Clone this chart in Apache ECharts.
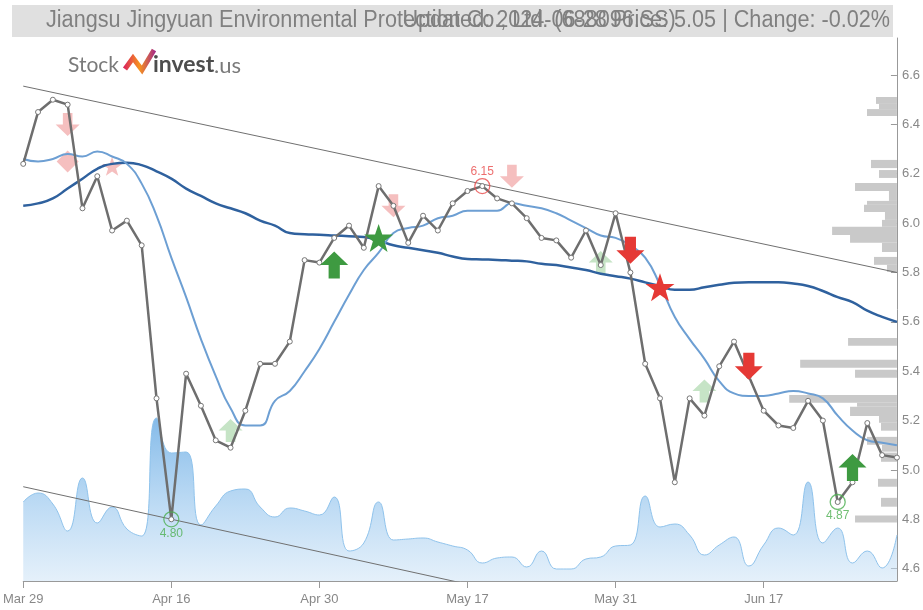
<!DOCTYPE html>
<html><head><meta charset="utf-8">
<script src="https://cdn.jsdelivr.net/npm/echarts@6/dist/echarts.min.js"></script>
<style>html,body{margin:0;padding:0;background:#fff}#c{width:923px;height:610px}</style>
</head><body><div id="c"></div>
<script>
const dates = ['Mar 29','Apr 1','Apr 2','Apr 3','Apr 8','Apr 9','Apr 10','Apr 11','Apr 12','Apr 15',
 'Apr 16','Apr 17','Apr 18','Apr 19','Apr 22','Apr 23','Apr 24','Apr 25','Apr 26','Apr 29',
 'Apr 30','May 6','May 7','May 8','May 9','May 10','May 13','May 14','May 15','May 16',
 'May 17','May 20','May 21','May 22','May 23','May 24','May 27','May 28','May 29','May 30',
 'May 31','Jun 3','Jun 4','Jun 5','Jun 6','Jun 7','Jun 11','Jun 12','Jun 13','Jun 14',
 'Jun 17','Jun 18','Jun 19','Jun 20','Jun 21','Jun 24','Jun 25','Jun 26','Jun 27','Jun 28'];
const price = [6.24,6.45,6.50,6.48,6.06,6.19,5.97,6.01,5.91,5.29,
 4.80,5.39,5.26,5.12,5.09,5.24,5.43,5.43,5.52,5.85,
 5.84,5.94,5.99,5.90,6.15,6.07,5.92,6.03,5.97,6.08,
 6.13,6.15,6.10,6.08,6.02,5.94,5.93,5.86,5.97,5.83,
 6.04,5.80,5.43,5.29,4.95,5.29,5.22,5.42,5.52,5.38,
 5.24,5.18,5.17,5.28,5.20,4.87,4.95,5.19,5.06,5.05];
const maShort = [6.26,6.25,6.26,6.28,6.27,6.29,6.27,6.24,6.16,6.03,
 5.86,5.70,5.53,5.38,5.25,5.18,5.18,5.28,5.32,5.40,
 5.49,5.60,5.71,5.81,5.88,5.96,5.98,5.99,6.02,6.03,
 6.05,6.05,6.05,6.08,6.07,6.06,6.04,6.01,5.98,5.95,
 5.94,5.91,5.86,5.75,5.62,5.53,5.45,5.36,5.31,5.30,
 5.30,5.31,5.32,5.31,5.29,5.22,5.16,5.12,5.11,5.10];
const maLong = [6.07,6.08,6.10,6.14,6.18,6.22,6.24,6.245,6.235,6.21,
 6.18,6.14,6.11,6.08,6.06,6.04,6.01,5.99,5.96,5.955,
 5.953,5.95,5.947,5.944,5.93,5.91,5.90,5.89,5.88,5.865,
 5.855,5.853,5.851,5.848,5.845,5.835,5.83,5.82,5.81,5.795,
 5.785,5.775,5.76,5.745,5.73,5.73,5.74,5.75,5.758,5.76,
 5.76,5.76,5.755,5.745,5.725,5.70,5.68,5.645,5.62,5.60];
const volume = [1580,1760,1540,1000,2060,1160,1480,1040,900,3260,
 2560,2580,1120,1500,1800,1840,1480,1280,1460,1400,
 1320,1680,600,760,1580,820,840,860,780,700,
 620,360,460,480,280,600,240,240,440,480,
 700,720,1700,1080,1140,920,520,720,880,300,
 720,1060,920,1980,760,1060,360,600,260,920];
// [volume, priceLow, priceHigh]
const profile = [[210,6.483,6.511],[180,6.462,6.483],[300,6.434,6.462],
 [260,6.223,6.256],[180,6.183,6.215],[420,6.130,6.163],[80,6.090,6.130],[300,6.074,6.090],
 [330,6.045,6.074],[120,6.013,6.045],[150,5.985,6.013],[650,5.952,5.985],[470,5.920,5.952],
 [150,5.883,5.920],[230,5.831,5.863],[100,5.802,5.831],
 [490,5.503,5.535],[970,5.414,5.446],[420,5.373,5.406],[1080,5.272,5.304],[400,5.256,5.272],
 [470,5.219,5.256],[180,5.191,5.219],[160,5.159,5.191],[300,5.102,5.134],[150,5.074,5.102],
 [160,5.033,5.070],[190,4.932,4.964],[160,4.851,4.887],[420,4.787,4.815]];
const upperTrend = [[0,6.555],[59,5.80]];
const lowerTrend = [[0,4.932],[59,4.155]];
const yTicks = [4.6,4.8,5.0,5.2,5.4,5.6,5.8,6.0,6.2,6.4,6.6];
const buyArrows = [[21,5.83],[56,5.01]];
const buyStars = [[24,5.94]];
const sellArrows = [[41,5.89],[49,5.42]];
const sellStars = [[43,5.74]];
const weakSellArrows = [[3,6.40],[25,6.07],[33,6.19]];
const weakSellDiamonds = [[3,6.25]];
const weakSellStars = [[6,6.23]];
const weakBuyArrows = [[14,5.16],[39,5.84],[46,5.32]];
const highs = [[31,6.15]];
const lows = [[10,4.80],[55,4.87]];

const downArrow = 'path://M3,0 L7,0 L7,5 L10,5 L5,10 L0,5 L3,5 Z';
const upArrow = 'path://M5,0 L10,5 L7,5 L7,10 L3,10 L3,5 L0,5 Z';
const star = 'path://M50,0 L61.8,35.3 L97.6,35.3 L68.8,57.1 L79.4,92.7 L50,71.3 L20.6,92.7 L31.2,57.1 L2.4,35.3 L38.2,35.3 Z';
const RED = '#e53935', GREEN = '#3e9a41', PINK = '#f5bfbf', LGREEN = '#c6e4c6';

function marker(data, symbol, size, color, z) {
  return {type:'scatter', data, symbol, symbolSize:size, symbolKeepAspect:false,
    itemStyle:{color, opacity:1}, z, silent:true};
}

const chart = echarts.init(document.getElementById('c'));
const titleFont = '23px "Liberation Sans", Arial, sans-serif';
chart.setOption({
  animation:false,
  backgroundColor:'#fff',
  grid:{left:22, right:25, top:38, bottom:29},
  xAxis:[{
    type:'category', data:dates, boundaryGap:false,
    axisLine:{lineStyle:{color:'#999'}},
    axisTick:{interval:9, length:7, lineStyle:{color:'#999'}},
    axisLabel:{interval:9, color:'#888', fontSize:13, margin:12, fontFamily:'"Liberation Sans", Arial, sans-serif'},
    splitLine:{show:false}
  },{
    type:'value', inverse:true, min:0, max:8760, show:false, position:'top'
  }],
  yAxis:[{
    type:'value', position:'right', min:4.55, max:6.75, scale:true,
    axisLine:{show:true, lineStyle:{color:'#999'}},
    axisTick:{show:true, inside:true, length:6, customValues:yTicks, lineStyle:{color:'#999'}},
    axisLabel:{customValues:yTicks, color:'#888', fontSize:13, margin:5,
      fontFamily:'"Liberation Sans", Arial, sans-serif', formatter:v=>Number(v).toFixed(1)},
    splitLine:{show:false}
  },{
    type:'value', min:0, max:10860, show:false
  }],
  series:[
    {type:'line', yAxisIndex:1, data:volume, smooth:true, symbol:'none', z:1, silent:true,
      lineStyle:{color:'#8fc3ec', width:1},
      areaStyle:{color:new echarts.graphic.LinearGradient(0,0,0,1,[
        {offset:0,color:'rgba(70,152,222,0.95)'},{offset:0.55,color:'rgba(140,192,236,0.8)'},{offset:1,color:'rgba(205,227,246,0.75)'}])}},
    {type:'custom', xAxisIndex:1, yAxisIndex:0, data:profile, z:2, silent:true,
      encode:{x:0, y:[1,2]},
      renderItem:(params, api)=>{
        const v = api.value(0), lo = api.value(1), hi = api.value(2);
        const p1 = api.coord([0, hi]);
        const p2 = api.coord([v, lo]);
        return {type:'rect', shape:{x:p2[0], y:p1[1], width:p1[0]-p2[0], height:p2[1]-p1[1]},
          style:{fill:'#c9c9c9'}};
      }},
    {type:'line', data:upperTrend, symbol:'none', z:3, silent:true, lineStyle:{color:'#707070', width:1}},
    {type:'line', data:lowerTrend, symbol:'none', z:3, silent:true, lineStyle:{color:'#707070', width:1}},
    marker(weakSellArrows, downArrow, [24,23], PINK, 3),
    marker(weakSellDiamonds, 'diamond', [22,22], PINK, 3),
    marker(weakSellStars, star, [20,19], PINK, 3),
    marker(weakBuyArrows, upArrow, [24,23], LGREEN, 3),
    {type:'line', data:maLong, smooth:true, symbol:'none', z:4, silent:true, lineStyle:{color:'#2f619e', width:2.5}},
    {type:'line', data:maShort, smooth:true, symbol:'none', z:4, silent:true, lineStyle:{color:'#6d9fd3', width:2}},
    {type:'line', data:price, symbol:'circle', symbolSize:5, z:5, silent:true,
      itemStyle:{color:'#fff', borderColor:'#777', borderWidth:1},
      lineStyle:{color:'#6e6e6e', width:2.5}},
    marker(buyArrows, upArrow, [28,27], GREEN, 6),
    marker(buyStars, star, [29,28], GREEN, 6),
    marker(sellArrows, downArrow, [28,27], RED, 6),
    marker(sellStars, star, [29,28], RED, 6),
    {type:'scatter', data:highs, symbol:'circle', symbolSize:15, z:7, silent:true,
      itemStyle:{color:'rgba(0,0,0,0)', borderColor:'#e84a4a', borderWidth:1.3},
      label:{show:true, position:'top', distance:0, color:'#e84a4a', fontSize:12,
        formatter:p=>p.value[1].toFixed(2)}},
    {type:'scatter', data:lows, symbol:'circle', symbolSize:15, z:7, silent:true,
      itemStyle:{color:'rgba(0,0,0,0)', borderColor:'#4caf50', borderWidth:1.3},
      label:{show:true, position:'bottom', distance:0, color:'#4caf50', fontSize:12,
        formatter:p=>p.value[1].toFixed(2)}}
  ],
  graphic:[
    {type:'rect', shape:{x:12, y:5, width:881, height:32}, style:{fill:'#e0e0e0'}, z:100},
    {type:'text', x:46, y:21, scaleX:0.94, z:101, style:{text:'Jiangsu Jingyuan Environmental Protection Co., Ltd. (688096.SS)',
      font:titleFont, fill:'#808080', textVerticalAlign:'middle', verticalAlign:'middle'}},
    {type:'text', x:890, y:21, scaleX:0.94, z:101, style:{text:'Updated: 2024-06-28 Price: 5.05 | Change: -0.02%',
      font:titleFont, fill:'#808080', textAlign:'right', align:'right', textVerticalAlign:'middle', verticalAlign:'middle'}},
    {type:'text', x:68, y:65, z:101, style:{text:'Stock', font:'21px Lato, sans-serif', fill:'#7a7a7a',
      textVerticalAlign:'middle', verticalAlign:'middle'}},
    {type:'polyline', z:101, shape:{points:[[125,69],[133,58],[142,70],[154,50]]},
      style:{lineWidth:5, lineJoin:'miter', fill:null,
        stroke:new echarts.graphic.LinearGradient(0,0,1,0,[
          {offset:0,color:'#d81b60'},{offset:0.5,color:'#f7931e'},{offset:1,color:'#a0228f'}])}},
    {type:'text', x:153, y:65, z:101, style:{text:'invest', font:'bold 23px Lato, sans-serif', fill:'#4d4d4d',
      textVerticalAlign:'middle', verticalAlign:'middle'}},
    {type:'text', x:214, y:66, z:101, style:{text:'.us', font:'22px Lato, sans-serif', fill:'#7a7a7a',
      textVerticalAlign:'middle', verticalAlign:'middle'}}
  ]
});
</script></body></html>
